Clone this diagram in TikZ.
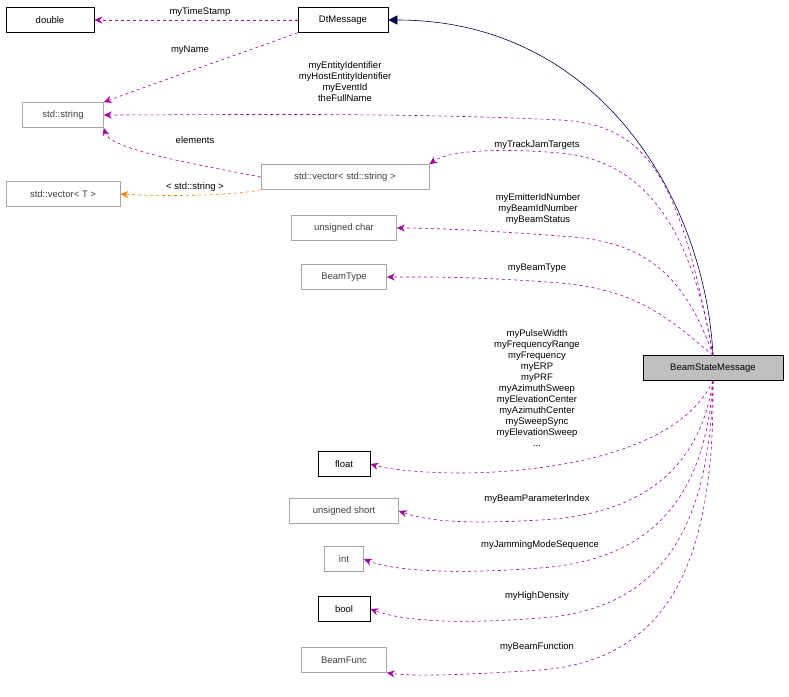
\documentclass[tikz,border=0pt]{standalone}
\usepackage{fontspec}
\setmainfont{Liberation Sans}
\usetikzlibrary{arrows.meta}
\begin{document}
\begin{tikzpicture}[x=1pt,y=-1pt,
  every node/.style={font=\fontsize{9.5}{11}\selectfont},
  box/.style={draw=black,fill=white,minimum height=25pt,inner xsep=5pt,line width=0.6pt},
  gbox/.style={box,draw=gray!70,text=black!75},
  lab/.style={align=center,font=\fontsize{9.5}{11}\selectfont,inner sep=0pt},
  dep/.style={draw=violet!70!magenta,dashed,line width=0.6pt,-{Stealth[length=8pt,width=7pt]}},
  odep/.style={draw=orange,dashed,line width=0.6pt,-{Stealth[length=8pt,width=7pt]}},
  inh/.style={draw=blue!30!black,line width=0.6pt,-{Triangle[length=9pt,width=9pt,fill=blue!30!black]}}]
\useasboundingbox (0,0) rectangle (789,696);
\node[box,minimum width=88pt] (dbl) at (50,20) {double};
\node[box,minimum width=90pt] (dt) at (343,20) {DtMessage};
\node[gbox,minimum width=81pt] (str) at (63,115) {std::string};
\node[gbox,minimum width=168pt] (vs) at (345,177) {std::vector< std::string >};
\node[gbox,minimum width=114pt] (vt) at (63,194) {std::vector< T >};
\node[gbox,minimum width=105pt] (uc) at (344,228) {unsigned char};
\node[gbox,minimum width=85pt] (bt) at (344,277) {BeamType};
\node[box,fill=gray!50,minimum width=140pt] (bsm) at (713,368) {BeamStateMessage};
\node[box,minimum width=52pt] (fl) at (344,464) {float};
\node[gbox,minimum width=109pt] (us) at (344,511) {unsigned short};
\node[gbox,minimum width=39pt] (int) at (344,559) {int};
\node[box,minimum width=52pt] (bl) at (344,609) {bool};
\node[gbox,minimum width=85pt] (bf) at (344,660) {BeamFunc};

\draw[inh] (bsm.north) .. controls (705,200) and (600,20) .. (dt.east);
\draw[dep] (dt.west) -- (dbl.east);
\node[lab] at (200,12) {myTimeStamp};
\draw[dep] (dt.south west) .. controls (250,50) and (150,85) .. (str.north east);
\node[lab] at (190,50) {myName};
\draw[dep] (bsm.north) .. controls (680,180) and (650,125) .. (560,120) .. controls (400,112) and (200,115) .. (str.east);
\node[lab] at (345,82) {myEntityIdentifier\\myHostEntityIdentifier\\myEventId\\theFullName};
\draw[dep] (vs.west) .. controls (200,165) and (110,150) .. (str.south east);
\node[lab] at (195,140) {elements};
\draw[odep] (vs.south west) .. controls (240,195) and (170,197) .. (vt.east);
\node[lab] at (195,187) {< std::string >};
\draw[dep] (bsm.north) .. controls (690,220) and (640,160) .. (560,153) .. controls (500,148) and (450,150) .. (vs.north east);
\node[lab] at (537,145) {myTrackJamTargets};
\draw[dep] (bsm.north) .. controls (680,260) and (630,240) .. (560,236) .. controls (480,230) and (430,228) .. (uc.east);
\node[lab] at (538,209) {myEmitterIdNumber\\myBeamIdNumber\\myBeamStatus};
\draw[dep] (bsm.north) .. controls (670,320) and (640,290) .. (560,283) .. controls (470,276) and (420,277) .. (bt.east);
\node[lab] at (537,268) {myBeamType};
\draw[dep] (bsm.south) .. controls (690,430) and (620,460) .. (520,470) .. controls (450,477) and (390,470) .. (fl.east);
\node[lab] at (537,388) {myPulseWidth\\myFrequencyRange\\myFrequency\\myERP\\myPRF\\myAzimuthSweep\\myElevationCenter\\myAzimuthCenter\\mySweepSync\\myElevationSweep\\...};
\draw[dep] (bsm.south) .. controls (700,470) and (640,515) .. (540,520) .. controls (470,524) and (430,522) .. (us.east);
\node[lab] at (537,499) {myBeamParameterIndex};
\draw[dep] (bsm.south) .. controls (705,500) and (650,560) .. (540,568) .. controls (450,575) and (390,570) .. (int.east);
\node[lab] at (540,545) {myJammingModeSequence};
\draw[dep] (bsm.south) .. controls (710,530) and (660,610) .. (540,618) .. controls (450,625) and (400,620) .. (bl.east);
\node[lab] at (537,596) {myHighDensity};
\draw[dep] (bsm.south) .. controls (715,560) and (670,660) .. (540,670) .. controls (450,676) and (410,676) .. (bf.south east);
\node[lab] at (537,647) {myBeamFunction};
\end{tikzpicture}
\end{document}
